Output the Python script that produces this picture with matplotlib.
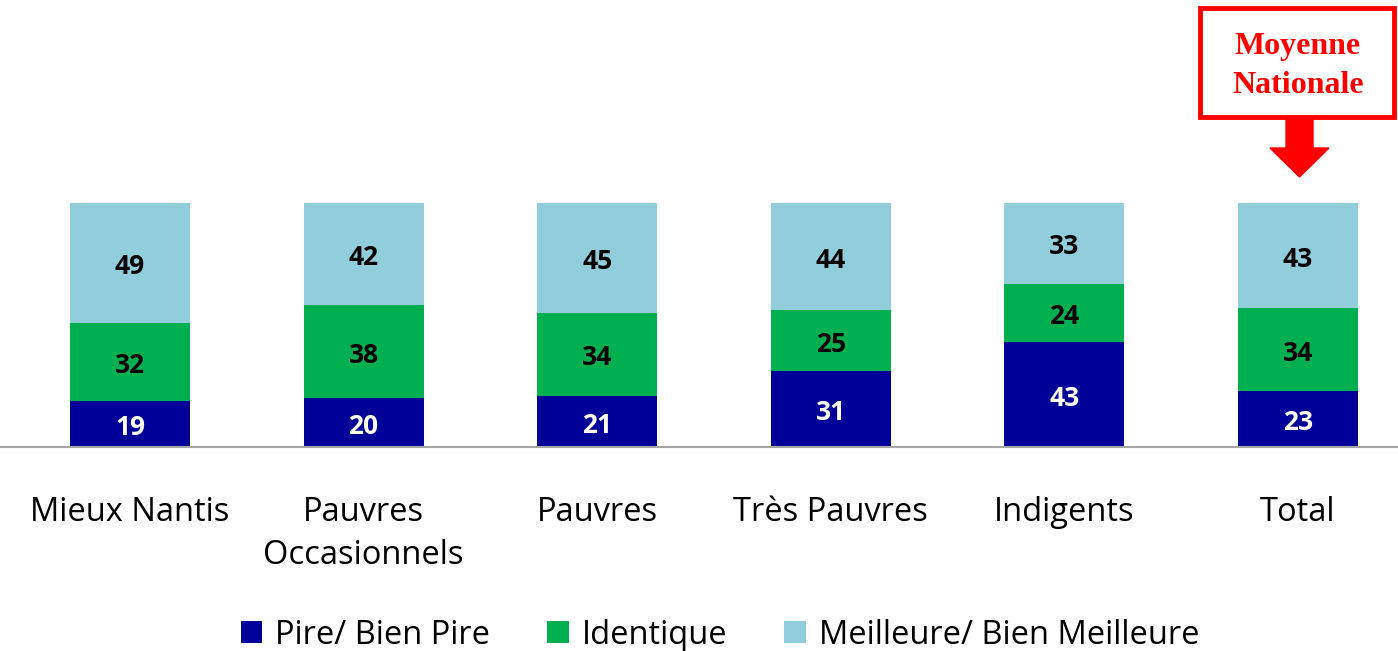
import numpy as np
import matplotlib.pyplot as plt
from matplotlib.patches import Rectangle, FancyArrow

categories = ["Mieux Nantis", "Pauvres\nOccasionnels", "Pauvres", "Très Pauvres", "Indigents", "Total"]
pire = [19, 20, 21, 31, 43, 23]
identique = [32, 38, 34, 25, 24, 34]
meilleure = [49, 42, 45, 44, 33, 43]
series_names = ["Pire/ Bien Pire", "Identique", "Meilleure/ Bien Meilleure"]
colors = ["#000099", "#00B050", "#92CDDC"]
text_colors = ["white", "black", "black"]

W, H = 1398, 651
fig = plt.figure(figsize=(W / 100, H / 100), dpi=100)
fig.patch.set_facecolor("white")

# axes placed in pixel terms: baseline at y=447, 100% at y=203
ax = fig.add_axes([0, (H - 447) / H, 1, 244 / H])
step = (1298 - 130) / 5
ax.set_xlim(-130 / step, 5 + 100 / step)
ax.set_ylim(0, 100)
x = np.arange(len(categories))
width = 120 / step

bottom = np.zeros(len(categories))
for vals, name, col, tcol in zip([pire, identique, meilleure], series_names, colors, text_colors):
    vals = np.array(vals, dtype=float)
    ax.bar(x, vals, width, bottom=bottom, color=col, label=name, zorder=2)
    for xi, b, v in zip(x, bottom, vals):
        ax.text(xi, b + v / 2 - 1.5, f"{int(v)}", ha="center", va="center", color=tcol,
                fontsize=19, fontweight="bold", family="Open Sans", zorder=3)
    bottom += vals

for s in ["top", "right", "left"]:
    ax.spines[s].set_visible(False)
ax.spines["bottom"].set_color("#a6a6a6")
ax.spines["bottom"].set_linewidth(1.5)
ax.set_yticks([])
ax.set_xticks(x)
ax.set_xticklabels(categories, fontsize=23.5, family="Open Sans", linespacing=1.4, va="top")
ax.tick_params(axis="x", length=0, pad=35)

handles, labels = ax.get_legend_handles_labels()
fig.legend(handles, labels, loc="center", bbox_to_anchor=(720 / W, 16 / H), ncol=3,
           frameon=False, prop={"family": "Open Sans", "size": 23.5},
           handlelength=0.65, handleheight=0.65, handletextpad=0.4, columnspacing=1.75)

# "Moyenne Nationale" callout
fig.patches.append(Rectangle((1200 / W, (H - 117) / H), 194 / W, 109 / H, transform=fig.transFigure,
                             fill=False, edgecolor="red", linewidth=3.5))
fig.text(1298 / W, (H - 66) / H, "Moyenne\nNationale", ha="center", va="center", color="red",
         fontsize=23, fontweight="bold", family="Liberation Serif", linespacing=1.45)
fig.patches.append(FancyArrow(1299.5 / W, (H - 117) / H, 0, -60 / H, width=27 / W, head_width=59 / W,
                              head_length=29 / H, length_includes_head=True, color="red",
                              transform=fig.transFigure))

fig.savefig("out.png", dpi=100)
